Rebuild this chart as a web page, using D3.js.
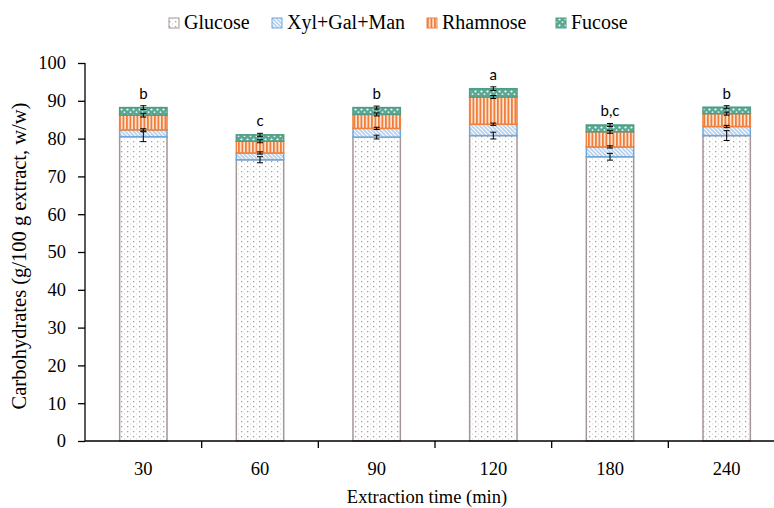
<!DOCTYPE html>
<html>
<head>
<meta charset="utf-8">
<script src="https://cdn.jsdelivr.net/npm/d3@7"></script>
<style>
  body { margin: 0; background: #fff; }
  svg { display: block; }
</style>
</head>
<body>
<script>
// data
var times = ["30", "60", "90", "120", "180", "240"];
var glucose = [80.5, 74.4, 80.4, 80.8, 75.2, 80.8];
var xylGalMan = [1.8, 1.8, 2.3, 3.0, 2.6, 2.4];
var rhamnose = [3.9, 3.1, 3.7, 7.2, 4.0, 3.4];
var fucose = [2.0, 1.7, 1.8, 2.2, 1.8, 1.7];
var errGlucose = [1.3, 0.8, 0.5, 0.9, 0.9, 1.3];
var errXyl = [0.3, 0.3, 0.3, 0.3, 0.3, 0.3];
var errRham = [0.5, 0.4, 0.4, 0.4, 0.4, 0.4];
var errFuc = [0.5, 0.4, 0.4, 0.5, 0.4, 0.4];
var letters = ["b", "c", "b", "a", "b,c", "b"];
var yTicks = [0, 10, 20, 30, 40, 50, 60, 70, 80, 90, 100];

var seriesNames = ["Glucose", "Xyl+Gal+Man", "Rhamnose", "Fucose"];
var seriesVals = [glucose, xylGalMan, rhamnose, fucose];
var seriesErr = [errGlucose, errXyl, errRham, errFuc];
var seriesFill = ["url(#pGlu)", "url(#pXyl)", "url(#pRha)", "url(#pFuc)"];
var seriesStroke = ["#a69595", "#6fa8dc", "#f08040", "#4f9c86"];

var width = 774, height = 508;
var plotLeft = 85, plotBottom = 441, plotTop = 63;
var serif = "'Liberation Serif', serif";

var svg = d3.select("body").append("svg")
    .attr("width", width)
    .attr("height", height);

var defs = svg.append("defs");

// glucose: white with grey dots
var pg = defs.append("pattern").attr("id", "pGlu").attr("patternUnits", "userSpaceOnUse")
    .attr("width", 6).attr("height", 5);
pg.append("rect").attr("width", 6).attr("height", 5).attr("fill", "#fff");
pg.append("rect").attr("x", 1).attr("y", 1).attr("width", 1.3).attr("height", 1.3).attr("fill", "#a0a0a0");
pg.append("rect").attr("x", 4).attr("y", 3.5).attr("width", 1).attr("height", 1).attr("fill", "#cfcfcf");

// xyl+gal+man: light blue diagonal hatch
var px = defs.append("pattern").attr("id", "pXyl").attr("patternUnits", "userSpaceOnUse")
    .attr("width", 4).attr("height", 4);
px.append("rect").attr("width", 4).attr("height", 4).attr("fill", "#b4d2ee");
px.append("path").attr("d", "M-1,-1 L5,5 M-1,3 L1,5 M3,-1 L5,1")
    .attr("stroke", "#ffffff").attr("stroke-width", 1.1);

// rhamnose: orange vertical lines
var pr = defs.append("pattern").attr("id", "pRha").attr("patternUnits", "userSpaceOnUse")
    .attr("width", 3.5).attr("height", 4);
pr.append("rect").attr("width", 3.5).attr("height", 4).attr("fill", "#fde4d4");
pr.append("rect").attr("x", 0).attr("width", 1.8).attr("height", 4).attr("fill", "#f07d3a");

// fucose: teal with white specks
var pf = defs.append("pattern").attr("id", "pFuc").attr("patternUnits", "userSpaceOnUse")
    .attr("width", 6).attr("height", 6);
pf.append("rect").attr("width", 6).attr("height", 6).attr("fill", "#5aa893");
pf.append("circle").attr("cx", 1.5).attr("cy", 1.5).attr("r", 1.1).attr("fill", "#fff");
pf.append("circle").attr("cx", 4.5).attr("cy", 4.2).attr("r", 0.9).attr("fill", "#e8f4ef");

var x = d3.scaleBand().domain(times).range([plotLeft, plotLeft + 700]).paddingInner(0.594).paddingOuter(0.297);
var y = d3.scaleLinear().domain([0, 100]).range([plotBottom, plotTop]);

// stack
var rows = times.map(function(t, i) {
  var r = { time: t };
  seriesNames.forEach(function(n, k) { r[n] = seriesVals[k][i]; });
  return r;
});
var stacked = d3.stack().keys(seriesNames)(rows);

stacked.forEach(function(layer, k) {
  svg.append("g").selectAll("rect")
    .data(layer)
    .join("rect")
    .attr("x", function(d, i) { return x(times[i]); })
    .attr("width", x.bandwidth())
    .attr("y", function(d) { return y(d[1]); })
    .attr("height", function(d) { return y(d[0]) - y(d[1]); })
    .attr("fill", seriesFill[k])
    .attr("stroke", seriesStroke[k])
    .attr("stroke-width", 1.5);
});

// error bars at top of each segment
stacked.forEach(function(layer, k) {
  layer.forEach(function(d, i) {
    var cx = x(times[i]) + x.bandwidth() / 2;
    var e = seriesErr[k][i];
    var g = svg.append("g").attr("stroke", "#000").attr("stroke-width", 1);
    g.append("line").attr("x1", cx).attr("x2", cx).attr("y1", y(d[1] - e)).attr("y2", y(d[1] + e));
    g.append("line").attr("x1", cx - 3).attr("x2", cx + 3).attr("y1", y(d[1] - e)).attr("y2", y(d[1] - e));
    g.append("line").attr("x1", cx - 3).attr("x2", cx + 3).attr("y1", y(d[1] + e)).attr("y2", y(d[1] + e));
  });
});

// significance letters
var totals = stacked[3];
svg.append("g").selectAll("text")
  .data(letters)
  .join("text")
  .attr("x", function(d, i) { return x(times[i]) + x.bandwidth() / 2; })
  .attr("y", function(d, i) { return y(totals[i][1] + errFuc[i]) - 7; })
  .attr("text-anchor", "middle")
  .attr("font-family", "Lato, 'Open Sans', sans-serif")
  .attr("font-size", 15)
  .text(function(d) { return d; });

// y axis
var yAxis = svg.append("g")
  .attr("transform", "translate(" + plotLeft + ",0)")
  .call(d3.axisLeft(y).tickValues(yTicks).tickSize(7).tickPadding(12));
yAxis.selectAll("text").attr("font-family", serif).attr("font-size", 18.5).attr("fill", "#000");
yAxis.selectAll("line,path").attr("stroke", "#000").attr("stroke-width", 1.3);
yAxis.select(".domain").attr("d", "M0," + plotTop + "V" + plotBottom);

// x axis: ticks between categories, labels centred
var xAxis = svg.append("g").attr("transform", "translate(0," + plotBottom + ")");
xAxis.append("line").attr("x1", plotLeft).attr("x2", plotLeft + 700).attr("stroke", "#000").attr("stroke-width", 1.3);
var step = x.step();
xAxis.selectAll("line.tk")
  .data(times)
  .join("line")
  .attr("class", "tk")
  .attr("x1", function(d) { return x(d) - step * 0.297 + step; })
  .attr("x2", function(d) { return x(d) - step * 0.297 + step; })
  .attr("y1", 0).attr("y2", 7)
  .attr("stroke", "#000").attr("stroke-width", 1.3);
xAxis.selectAll("text")
  .data(times)
  .join("text")
  .attr("x", function(d) { return x(d) + x.bandwidth() / 2; })
  .attr("y", 34)
  .attr("text-anchor", "middle")
  .attr("font-family", serif)
  .attr("font-size", 18.5)
  .text(function(d) { return d; });

// axis titles
svg.append("text")
  .attr("x", 427).attr("y", 503)
  .attr("text-anchor", "middle")
  .attr("font-family", serif)
  .attr("font-size", 18.5)
  .text("Extraction time (min)");

svg.append("text")
  .attr("transform", "translate(26,256) rotate(-90)")
  .attr("text-anchor", "middle")
  .attr("font-family", serif)
  .attr("font-size", 20.5)
  .text("Carbohydrates (g/100 g extract, w/w)");

// legend
var legendX = [169, 272, 427, 556];
var lg = svg.append("g");
seriesNames.forEach(function(n, k) {
  lg.append("rect")
    .attr("x", legendX[k]).attr("y", 18)
    .attr("width", 10).attr("height", 10)
    .attr("fill", seriesFill[k])
    .attr("stroke", seriesStroke[k])
    .attr("stroke-width", 1);
  lg.append("text")
    .attr("x", legendX[k] + 15).attr("y", 29)
    .attr("font-family", serif)
    .attr("font-size", 20)
    .text(n);
});
</script>
</body>
</html>
